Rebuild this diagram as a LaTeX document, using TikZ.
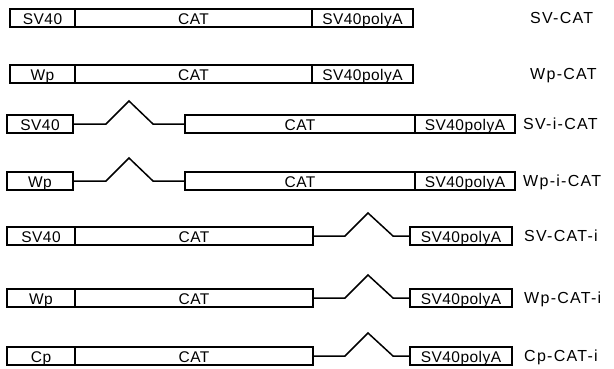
\documentclass[tikz,border=0pt]{standalone}
\usepackage{fontspec}
\setmainfont{Liberation Sans}
\usetikzlibrary{positioning}

\begin{document}
\begin{tikzpicture}[
  x=1pt, y=-1pt,
  node distance=0pt,
  seg/.style={draw, line width=1.7pt, minimum height=18pt, inner sep=0pt,
              outer sep=0pt, anchor=west, text height=13.5pt, text depth=0pt,
              font=\fontsize{15.5}{15.5}\selectfont\addfontfeature{LetterSpace=3}},
  prom/.style={seg, minimum width=65pt},
  cat/.style={seg, minimum width=237pt},
  pa/.style={seg, minimum width=101pt},
  tag/.style={anchor=base west, inner sep=0pt,
              font=\fontsize{16}{16}\selectfont\addfontfeature{LetterSpace=8}},
  intr/.style={line width=1.5pt, line join=miter},
]
\useasboundingbox (0,0) rectangle (614,368);
% SV-CAT
\node[prom] (p1) at (10,18) {SV40};
\node[cat, right=of p1] (c1) {CAT};
\node[pa, right=of c1] (a1) {SV40polyA};
\node[tag] (t1) at (530,23) {SV-CAT};
% Wp-CAT
\node[prom] (p2) at (10,74) {Wp};
\node[cat, right=of p2] (c2) {CAT};
\node[pa, right=of c2] (a2) {SV40polyA};
\node[tag] (t2) at (530,79) {Wp-CAT};
% SV-i-CAT
\node[prom, minimum width=66pt] (p3) at (7,124) {SV40};
\node[cat, minimum width=230pt] (c3) at (185,124) {CAT};
\node[pa, minimum width=100pt, right=of c3] (a3) {SV40polyA};
\node[tag] (t3) at (523,129) {SV-i-CAT};
\draw[intr] (p3.east) -- ++(33,0) -- ++(23,-23) -- ++(24,23) -- (c3.west);
% Wp-i-CAT
\node[prom, minimum width=66pt] (p4) at (7,181) {Wp};
\node[cat, minimum width=230pt] (c4) at (185,181) {CAT};
\node[pa, minimum width=100pt, right=of c4] (a4) {SV40polyA};
\node[tag] (t4) at (523,186) {Wp-i-CAT};
\draw[intr] (p4.east) -- ++(33,0) -- ++(23,-23) -- ++(24,23) -- (c4.west);
% SV-CAT-i
\node[prom, minimum width=68pt] (p5) at (7,236) {SV40};
\node[cat, minimum width=238pt, right=of p5] (c5) {CAT};
\node[pa, minimum width=102pt] (a5) at (410,236) {SV40polyA};
\node[tag] (t5) at (524,241) {SV-CAT-i};
\draw[intr] (c5.east) -- ++(32,0) -- ++(23,-23) -- ++(25,23) -- (a5.west);
% Wp-CAT-i
\node[prom, minimum width=68pt] (p6) at (7,298) {Wp};
\node[cat, minimum width=238pt, right=of p6] (c6) {CAT};
\node[pa, minimum width=102pt] (a6) at (410,298) {SV40polyA};
\node[tag] (t6) at (524,303) {Wp-CAT-i};
\draw[intr] (c6.east) -- ++(32,0) -- ++(23,-23) -- ++(25,23) -- (a6.west);
% Cp-CAT-i
\node[prom, minimum width=68pt] (p7) at (7,356) {Cp};
\node[cat, minimum width=238pt, right=of p7] (c7) {CAT};
\node[pa, minimum width=102pt] (a7) at (410,356) {SV40polyA};
\node[tag] (t7) at (524,361) {Cp-CAT-i};
\draw[intr] (c7.east) -- ++(32,0) -- ++(23,-23) -- ++(25,23) -- (a7.west);
\end{tikzpicture}
\end{document}
